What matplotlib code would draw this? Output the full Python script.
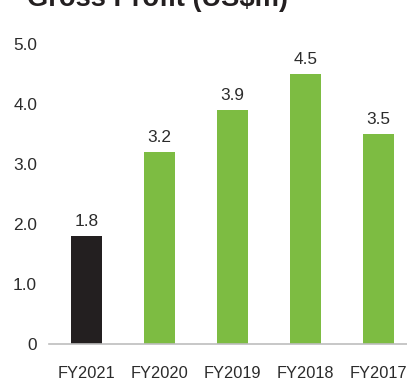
import matplotlib
matplotlib.use("Agg")
import matplotlib.pyplot as plt

years = ["FY2021", "FY2020", "FY2019", "FY2018", "FY2017"]
gross_profit = [1.8, 3.2, 3.9, 4.5, 3.5]
bar_colors = ["#231F20", "#7DBC42", "#7DBC42", "#7DBC42", "#7DBC42"]
y_ticks = [0, 1, 2, 3, 4, 5]
y_tick_labels = ["0", "1.0", "2.0", "3.0", "4.0", "5.0"]

plt.rcParams["font.family"] = ["Liberation Sans", "DejaVu Sans"]
text_color = "#2B2B2B"

W, H = 407, 381
fig = plt.figure(figsize=(W / 100, H / 100), dpi=100)

# axes box in pixel terms
left_px, right_px = 49, 407
base_px, top_px = 344, 30
ax = fig.add_axes([left_px / W, (H - base_px) / H,
                   (right_px - left_px) / W, (base_px - top_px) / H])

x = list(range(len(years)))
ax.bar(x, gross_profit, width=0.43, color=bar_colors, zorder=2)

px_per_unit = 60
ax.set_ylim(0, (base_px - top_px) / px_per_unit)
spacing = 73
ax.set_xlim((left_px - 86.5) / spacing, (right_px - 86.5) / spacing)

for xi, v in zip(x, gross_profit):
    ax.annotate(f"{v:.1f}", (xi, v), xytext=(0, 5), textcoords="offset points",
                ha="center", va="bottom", fontsize=12.4, color=text_color)

ax.set_yticks(y_ticks)
ax.set_yticklabels(y_tick_labels)
ax.set_xticks(x)
ax.set_xticklabels(years)
ax.tick_params(axis="y", length=0, pad=8.6, labelsize=12.4, labelcolor=text_color)
ax.tick_params(axis="x", length=0, pad=16.2, labelsize=11.8, labelcolor=text_color)

for side in ["top", "right", "left"]:
    ax.spines[side].set_visible(False)
ax.spines["bottom"].set_color("#BDBDBD")
ax.spines["bottom"].set_linewidth(1.2)

fig.text(27 / W, (H - 6) / H, "Gross Profit (US$m)", fontsize=19.6,
         fontweight="bold", color="#231F20", ha="left", va="baseline")

fig.savefig("out.png", dpi=100)
